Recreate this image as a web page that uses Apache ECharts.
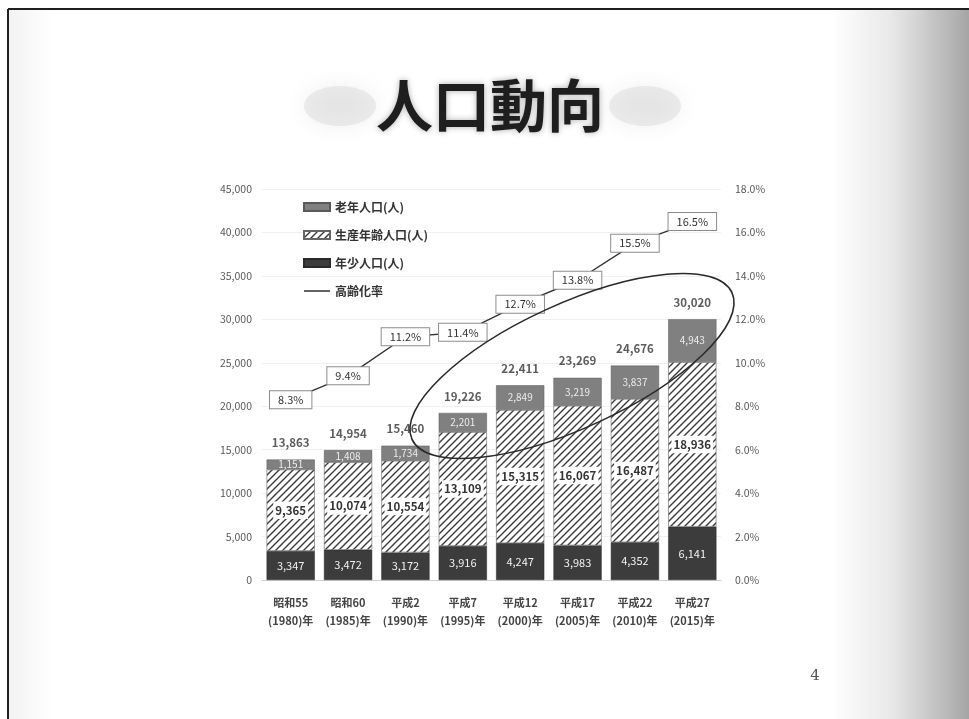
<!DOCTYPE html>
<html>
<head>
<meta charset="utf-8">
<script src="https://cdn.jsdelivr.net/npm/echarts@6/dist/echarts.min.js"></script>
<style>
html,body{margin:0;padding:0;background:#fff;}
#c{width:969px;height:719px;}
</style>
</head>
<body>
<div id="c"></div>
<script>
// 国勢調査年ごとの年齢3区分人口と高齢化率
const categories = [
  '昭和55\n(1980)年', '昭和60\n(1985)年', '平成2\n(1990)年', '平成7\n(1995)年',
  '平成12\n(2000)年', '平成17\n(2005)年', '平成22\n(2010)年', '平成27\n(2015)年'
];
const elderly   = [1151, 1408, 1734, 2201, 2849, 3219, 3837, 4943];      // 老年人口
const working   = [9365, 10074, 10554, 13109, 15315, 16067, 16487, 18936]; // 生産年齢人口
const young     = [3347, 3472, 3172, 3916, 4247, 3983, 4352, 6141];      // 年少人口
const totals    = [13863, 14954, 15460, 19226, 22411, 23269, 24676, 30020]; // 総人口
const agingRate = [8.3, 9.4, 11.2, 11.4, 12.7, 13.8, 15.5, 16.5];        // 高齢化率(%)

const popAxis  = { min: 0, max: 45000, interval: 5000 };
const rateAxis = { min: 0, max: 18, interval: 2 };

const FONT = '"Noto Sans CJK JP", "Noto Sans", sans-serif';

// 斜線ハッチのパターン
function hatchPattern() {
  const s = 7;
  const c = document.createElement('canvas');
  c.width = s; c.height = s;
  const g = c.getContext('2d');
  g.fillStyle = '#ffffff';
  g.fillRect(0, 0, s, s);
  g.strokeStyle = '#3a3a3a';
  g.lineWidth = 1.4;
  g.beginPath();
  g.moveTo(0, s); g.lineTo(s, 0);
  g.moveTo(-1, 1); g.lineTo(1, -1);
  g.moveTo(s - 1, s + 1); g.lineTo(s + 1, s - 1);
  g.stroke();
  return c;
}
const hatch = { image: hatchPattern(), repeat: 'repeat' };

const fmt = v => v.toLocaleString('en-US');

const chart = echarts.init(document.getElementById('c'), null, { renderer: 'canvas' });

chart.setOption({
  backgroundColor: '#ffffff',
  animation: false,
  textStyle: { fontFamily: FONT },
  grid: { left: 262, right: 248, top: 189, bottom: 139 },
  legend: {
    orient: 'vertical',
    left: 298,
    top: 196,
    itemWidth: 26,
    itemHeight: 8,
    itemGap: 16,
    textStyle: { fontSize: 12, fontWeight: 'bold', color: '#333', fontFamily: FONT },
    data: [
      { name: '老年人口(人)', icon: 'rect' },
      { name: '生産年齢人口(人)', icon: 'rect' },
      { name: '年少人口(人)', icon: 'rect' },
      { name: '高齢化率', icon: 'path://M0,4 L26,4 L26,5.4 L0,5.4 Z', itemStyle: { color: '#222' } }
    ]
  },
  xAxis: {
    type: 'category',
    data: categories,
    axisTick: { show: false },
    axisLine: { show: true, lineStyle: { color: '#d0d0d0' } },
    axisLabel: {
      fontSize: 11, fontWeight: 'bold', color: '#444', lineHeight: 18, margin: 14,
      fontFamily: FONT, interval: 0
    }
  },
  yAxis: [
    {
      type: 'value',
      min: popAxis.min, max: popAxis.max, interval: popAxis.interval,
      axisLine: { show: false }, axisTick: { show: false },
      splitLine: { show: true, lineStyle: { color: '#f0f0f0' } },
      axisLabel: { fontSize: 10.5, color: '#595959', margin: 10, formatter: v => fmt(v) }
    },
    {
      type: 'value',
      min: rateAxis.min, max: rateAxis.max, interval: rateAxis.interval,
      axisLine: { show: false }, axisTick: { show: false },
      splitLine: { show: false },
      axisLabel: { fontSize: 10.5, color: '#595959', margin: 14, formatter: v => v.toFixed(1) + '%' }
    }
  ],
  series: [
    {
      name: '年少人口(人)', type: 'bar', stack: 'pop', barWidth: '84%',
      data: young,
      itemStyle: { color: '#3c3c3c', borderColor: '#2a2a2a', borderWidth: 0.5 },
      label: { show: true, position: 'inside', color: '#f2f2f2', fontSize: 11, formatter: p => fmt(p.value) }
    },
    {
      name: '生産年齢人口(人)', type: 'bar', stack: 'pop',
      data: working,
      itemStyle: { color: hatch, borderColor: '#666', borderWidth: 0.6 },
      label: {
        show: true, position: 'inside', color: '#333', fontSize: 11.5, fontWeight: 'bold',
        backgroundColor: '#ffffff', padding: [3, 2], formatter: p => fmt(p.value)
      }
    },
    {
      name: '老年人口(人)', type: 'bar', stack: 'pop',
      data: elderly,
      itemStyle: { color: '#808080', borderColor: '#5a5a5a', borderWidth: 0.5 },
      label: { show: true, position: 'inside', color: '#ececec', fontSize: 10, formatter: p => fmt(p.value) }
    },
    {
      name: '総人口', type: 'scatter', symbolSize: 0,
      data: totals,
      silent: true,
      label: {
        show: true, position: 'top', distance: 11, color: '#333', fontSize: 11.5, fontWeight: 'bold',
        formatter: p => fmt(p.value)
      },
      z: 5
    },
    {
      name: '高齢化率', type: 'line', yAxisIndex: 1,
      data: agingRate,
      symbol: 'circle', symbolSize: 1,
      lineStyle: { color: '#333', width: 1.4 },
      itemStyle: { color: '#333' },
      label: {
        show: true, position: 'inside', color: '#333', fontSize: 11,
        backgroundColor: '#ffffff', borderColor: '#8c8c8c', borderWidth: 1, padding: [3, 8],
        formatter: p => p.value.toFixed(1) + '%'
      },
      z: 6
    }
  ],
  graphic: [
    // スライドの枠線
    { type: 'line', z: 50, shape: { x1: 8, y1: 9, x2: 969, y2: 9 }, style: { stroke: '#1f1f1f', lineWidth: 2 } },
    { type: 'line', z: 50, shape: { x1: 8, y1: 9, x2: 8, y2: 719 }, style: { stroke: '#1f1f1f', lineWidth: 2 } },
    // 右端の紙の質感
    {
      type: 'rect', z: -10, shape: { x: 830, y: 10, width: 139, height: 709 },
      style: {
        fill: new echarts.graphic.LinearGradient(0, 0, 1, 0, [
          { offset: 0, color: 'rgba(190,190,190,0)' },
          { offset: 0.4, color: 'rgba(190,190,190,0.3)' },
          { offset: 0.75, color: 'rgba(170,170,170,0.7)' },
          { offset: 1, color: 'rgba(155,155,155,0.9)' }
        ])
      }
    },
    // 左端の淡い質感
    {
      type: 'rect', z: -10, shape: { x: 9, y: 10, width: 45, height: 709 },
      style: {
        fill: new echarts.graphic.LinearGradient(0, 0, 1, 0, [
          { offset: 0, color: 'rgba(200,200,200,0.22)' },
          { offset: 1, color: 'rgba(200,200,200,0)' }
        ])
      }
    },
    // タイトル背後のかすみ
    {
      type: 'ellipse', z: -5, shape: { cx: 340, cy: 106, rx: 36, ry: 20 },
      style: { fill: 'rgba(205,205,205,0.35)', shadowBlur: 22, shadowColor: 'rgba(200,200,200,0.8)' }
    },
    {
      type: 'ellipse', z: -5, shape: { cx: 645, cy: 106, rx: 36, ry: 20 },
      style: { fill: 'rgba(205,205,205,0.35)', shadowBlur: 22, shadowColor: 'rgba(200,200,200,0.8)' }
    },
    // タイトル
    {
      type: 'text', z: 20, x: 490, y: 105,
      style: {
        text: '人口動向', font: 'bold 57px ' + FONT, fill: '#1e1e1e',
        align: 'center', verticalAlign: 'middle',
        textShadowBlur: 6, textShadowColor: 'rgba(120,120,120,0.6)'
      }
    },
    // ページ番号
    {
      type: 'text', z: 20, x: 815, y: 676,
      style: { text: '4', font: '15px "DejaVu Serif", serif', fill: '#555', align: 'center', verticalAlign: 'middle' }
    },
    // 近年の増加を囲む楕円
    {
      type: 'ellipse', z: 60, x: 572, y: 366, rotation: 0.43,
      shape: { cx: 0, cy: 0, rx: 176, ry: 62 },
      style: { fill: 'none', stroke: '#2a2a2a', lineWidth: 1.6 }
    }
  ]
});
</script>
</body>
</html>
